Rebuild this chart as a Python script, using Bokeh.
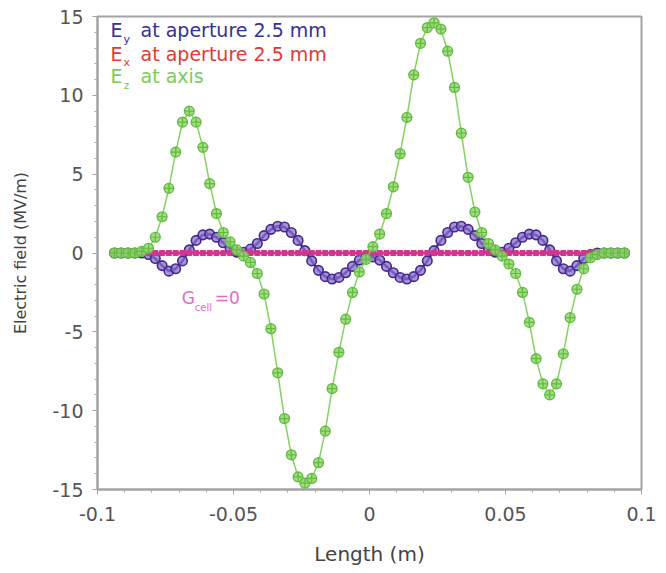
from bokeh.plotting import figure
from bokeh.models import Label, Range1d, FixedTicker
from bokeh.embed import file_html
from bokeh.resources import INLINE

# ---------------- data ----------------
length_m = [
    -0.09375, -0.09125, -0.08875, -0.08625, -0.08375, -0.08125, -0.07875, -0.07625,
    -0.07375, -0.07125, -0.06875, -0.06625, -0.06375, -0.06125, -0.05875, -0.05625,
    -0.05375, -0.05125, -0.04875, -0.04625, -0.04375, -0.04125, -0.03875, -0.03625,
    -0.03375, -0.03125, -0.02875, -0.02625, -0.02375, -0.02125, -0.01875, -0.01625,
    -0.01375, -0.01125, -0.00875, -0.00625, -0.00375, -0.00125,
    0.00125, 0.00375, 0.00625, 0.00875, 0.01125, 0.01375, 0.01625, 0.01875,
    0.02125, 0.02375, 0.02625, 0.02875, 0.03125, 0.03375, 0.03625, 0.03875,
    0.04125, 0.04375, 0.04625, 0.04875, 0.05125, 0.05375, 0.05625, 0.05875,
    0.06125, 0.06375, 0.06625, 0.06875, 0.07125, 0.07375, 0.07625, 0.07875,
    0.08125, 0.08375, 0.08625, 0.08875, 0.09125, 0.09375,
]

ez_axis = [
    0.0, 0.0, 0.0, 0.0, 0.1, 0.3, 1.0, 2.3,
    4.1, 6.4, 8.3, 9.0, 8.3, 6.7, 4.4, 2.5,
    1.3, 0.7, 0.2, -0.2, -0.6, -1.3, -2.6, -4.8,
    -7.6, -10.5, -12.8, -14.2, -14.6, -14.3, -13.3, -11.3,
    -8.6, -6.3, -4.2, -2.5, -1.2, -0.4,
    0.4, 1.2, 2.5, 4.2, 6.3, 8.6, 11.3, 13.3,
    14.3, 14.6, 14.2, 12.8, 10.5, 7.6, 4.8, 2.6,
    1.3, 0.6, 0.2, -0.2, -0.7, -1.3, -2.5, -4.4,
    -6.7, -8.3, -9.0, -8.3, -6.4, -4.1, -2.3, -1.0,
    -0.3, -0.1, 0.0, 0.0, 0.0, 0.0,
]

ey_aperture = [
    0.0, 0.0, 0.0, 0.0, 0.0, -0.1, -0.35, -0.8,
    -1.15, -1.0, -0.5, 0.2, 0.8, 1.15, 1.2, 1.0,
    0.65, 0.3, 0.05, 0.05, 0.25, 0.6, 1.1, 1.5,
    1.7, 1.65, 1.3, 0.8, 0.15, -0.5, -1.1, -1.5,
    -1.65, -1.55, -1.25, -0.85, -0.45, -0.25,
    -0.25, -0.45, -0.85, -1.25, -1.55, -1.65, -1.5, -1.1,
    -0.5, 0.15, 0.8, 1.3, 1.65, 1.7, 1.5, 1.1,
    0.6, 0.25, 0.05, 0.05, 0.3, 0.65, 1.0, 1.2,
    1.15, 0.8, 0.2, -0.5, -1.0, -1.15, -0.8, -0.35,
    -0.1, 0.0, 0.0, 0.0, 0.0, 0.0,
]

ex_aperture = [
    0.0, 0.0, 0.0, 0.0, 0.0, 0.0, 0.0, 0.0,
    0.0, 0.0, 0.0, 0.0, 0.0, 0.0, 0.0, 0.0,
    0.0, 0.0, 0.0, 0.0, 0.0, 0.0, 0.0, 0.0,
    0.0, 0.0, 0.0, 0.0, 0.0, 0.0, 0.0, 0.0,
    0.0, 0.0, 0.0, 0.0, 0.0, 0.0,
    0.0, 0.0, 0.0, 0.0, 0.0, 0.0, 0.0, 0.0,
    0.0, 0.0, 0.0, 0.0, 0.0, 0.0, 0.0, 0.0,
    0.0, 0.0, 0.0, 0.0, 0.0, 0.0, 0.0, 0.0,
    0.0, 0.0, 0.0, 0.0, 0.0, 0.0, 0.0, 0.0,
    0.0, 0.0, 0.0, 0.0, 0.0, 0.0,
]

x_ticks = [-0.1, -0.05, 0.0, 0.05, 0.1]
x_tick_labels = ["-0.1", "-0.05", "0", "0.05", "0.1"]
x_minor = [-0.09, -0.08, -0.07, -0.06, -0.04, -0.03, -0.02, -0.01,
           0.01, 0.02, 0.03, 0.04, 0.06, 0.07, 0.08, 0.09]
y_ticks = [-15, -10, -5, 0, 5, 10, 15]
y_tick_labels = ["-15", "-10", "-5", "0", "5", "10", "15"]
y_minor = [-14, -13, -12, -11, -9, -8, -7, -6, -4, -3, -2, -1,
           1, 2, 3, 4, 6, 7, 8, 9, 11, 12, 13, 14]

FONT = "DejaVu Sans"
GRAY = "#a4a4a4"

p = figure(frame_width=544, frame_height=473,
           min_border_left=97, min_border_right=23,
           min_border_top=16, min_border_bottom=82,
           x_range=Range1d(-0.1, 0.1), y_range=Range1d(-15, 15),
           output_backend="svg", toolbar_location=None,
           background_fill_color="white", border_fill_color="white")

p.xgrid.visible = False
p.ygrid.visible = False
p.outline_line_color = GRAY
p.outline_line_width = 2

p.xaxis.ticker = FixedTicker(ticks=x_ticks, minor_ticks=x_minor)
p.yaxis.ticker = FixedTicker(ticks=y_ticks, minor_ticks=y_minor)
p.xaxis.major_label_overrides = {t: s for t, s in zip(x_ticks, x_tick_labels)}
p.yaxis.major_label_overrides = {t: s for t, s in zip(y_ticks, y_tick_labels)}

for ax in (p.xaxis, p.yaxis):
    ax.axis_line_color = GRAY
    ax.axis_line_width = 2
    ax.major_tick_line_color = GRAY
    ax.minor_tick_line_color = GRAY
    ax.major_tick_out = 5
    ax.major_tick_in = 0
    ax.minor_tick_out = 3
    ax.minor_tick_in = 0
    ax.major_label_text_font = FONT
    ax.major_label_text_font_size = "19px"
    ax.major_label_text_color = "#555555"
    ax.axis_label_text_font = FONT
    ax.axis_label_text_font_style = "normal"
    ax.axis_label_text_color = "#444444"

p.xaxis.axis_label = "Length (m)"
p.yaxis.axis_label = "Electric field (MV/m)"
p.xaxis.axis_label_text_font_size = "20px"
p.yaxis.axis_label_text_font_size = "16px"
p.xaxis.major_label_standoff = 12
p.yaxis.major_label_standoff = 9
p.xaxis.axis_label_standoff = 18
p.yaxis.axis_label_standoff = 19

# ---------------- series ----------------
p.line(length_m, ey_aperture, line_color="#3d2590", line_width=2.5)
p.scatter(length_m, ey_aperture, marker="circle", size=9.5,
          line_color="#45278f", line_width=1.6,
          fill_color="#8a70c8", fill_alpha=0.75)

p.line(length_m, ex_aperture, line_color="#d2358f", line_width=2.5)
p.scatter(length_m, ex_aperture, marker="square", size=5,
          line_color="#d2358f", fill_color="#d2358f")

p.line(length_m, ez_axis, line_color="#78cc52", line_width=1.5, line_alpha=0.9)
p.scatter(length_m, ez_axis, marker="circle_cross", size=10,
          line_color="#62bb3e", line_width=1.2,
          fill_color="#92d870", fill_alpha=0.85)

# ---------------- legend texts ----------------
LX = -0.0952
legend_rows = [
    (13.45, "y", "#35309a"),
    (11.95, "x", "#e23a35"),
    (10.50, "z", "#7ccc58"),
]
row_text = ["at aperture 2.5 mm", "at aperture 2.5 mm", "at axis"]
for (ly, sub, col), txt in zip(legend_rows, row_text):
    p.add_layout(Label(x=LX, y=ly, text="E", text_font=FONT,
                       text_font_size="19px", text_color=col))
    p.add_layout(Label(x=LX, y=ly - 0.3, x_offset=13, text=sub, text_font=FONT,
                       text_font_size="11px", text_color=col))
    p.add_layout(Label(x=LX, y=ly, x_offset=30, text=txt, text_font=FONT,
                       text_font_size="19px", text_color=col))

# G_cell = 0 annotation
GX, GY = -0.069, -3.5
GCOL = "#e46cc2"
p.add_layout(Label(x=GX, y=GY, text="G", text_font=FONT,
                   text_font_size="17px", text_color=GCOL))
p.add_layout(Label(x=GX, y=GY - 0.3, x_offset=13, text="cell", text_font=FONT,
                   text_font_size="10px", text_color=GCOL))
p.add_layout(Label(x=GX, y=GY, x_offset=33, text="=0", text_font=FONT,
                   text_font_size="17px", text_color=GCOL))

open("out.html", "w").write(file_html(p, INLINE))
